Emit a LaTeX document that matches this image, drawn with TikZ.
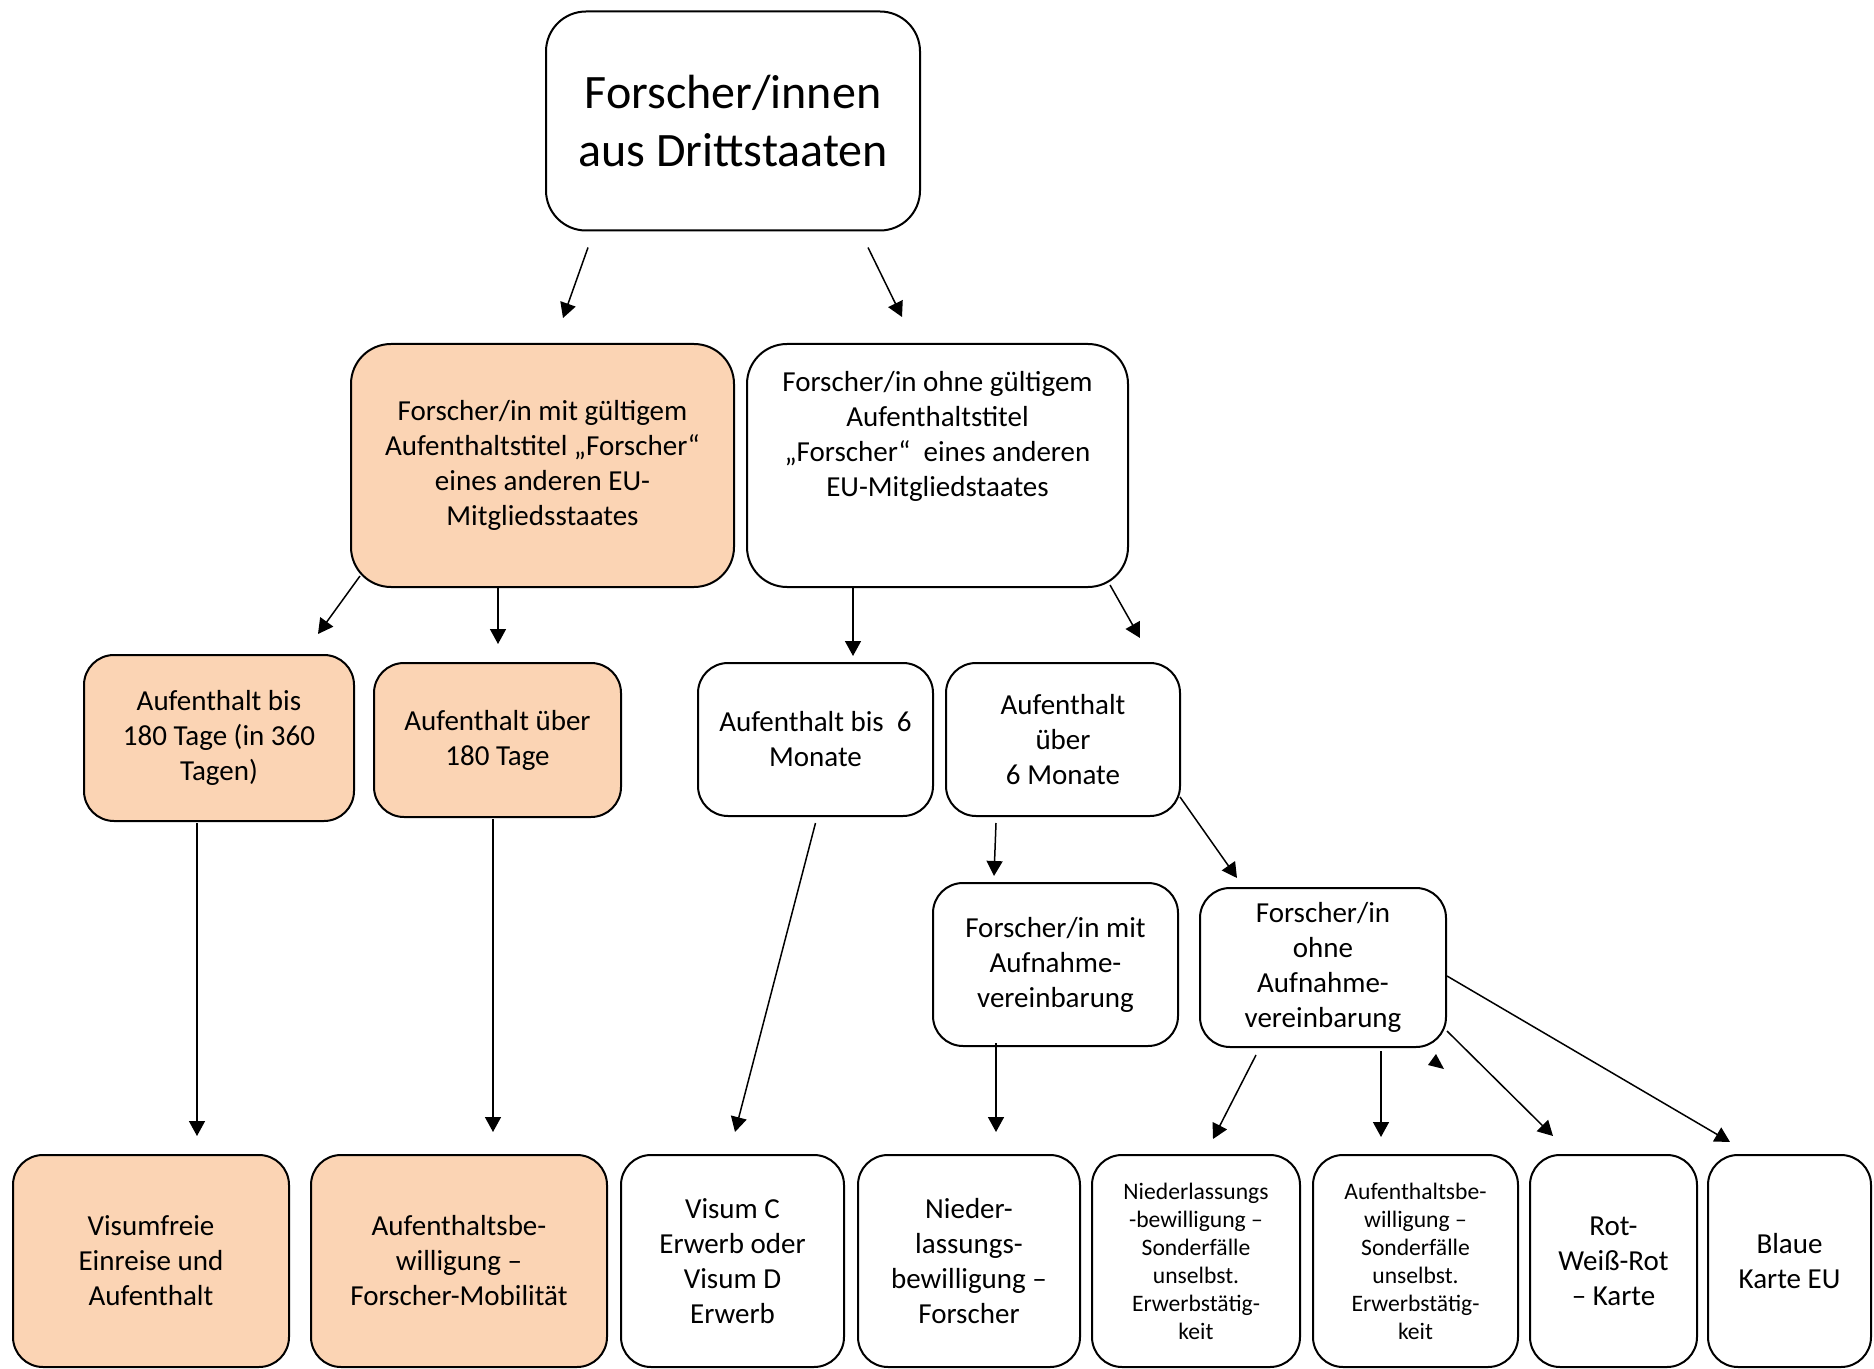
\documentclass[tikz,border=0pt]{standalone}
\usepackage{fontspec}
\setmainfont{Carlito}
\usetikzlibrary{arrows.meta}
\definecolor{peach}{RGB}{251,212,180}

\begin{document}
\begin{tikzpicture}[x=0.5pt,y=-0.5pt,>={Triangle[length=7.5pt,width=8pt]},
    box/.style={draw,line width=1pt,rounded corners=15pt,align=center,inner sep=2pt,
      font=\fontsize{14.5pt}{17.5pt}\selectfont},
    peachbox/.style={box,fill=peach},
    smalltext/.style={font=\fontsize{11.8pt}{14pt}\selectfont},
    arr/.style={->,line width=0.75pt}]
  \useasboundingbox (0,0) rectangle (1874,1369);

    % obere Ebenen
    \node(top) at (733,121) [box,rounded corners=20pt,minimum width=187pt,minimum height=109.5pt,
      font=\fontsize{24pt}{29pt}\selectfont] {Forscher/innen\\aus Drittstaaten};
    \node(mit) at (542.5,465.5) [peachbox,rounded corners=20pt,minimum width=191.5pt,minimum height=121.5pt]
      {Forscher/in mit gültigem\\Aufenthaltstitel „Forscher“\\eines anderen EU-\\Mitgliedsstaates};
    \node(ohne) at (937.5,465.5) [box,rounded corners=20pt,minimum width=190.5pt,minimum height=121.5pt] {};
    \node(ohnetext) at ([shift={(0,-29)}]ohne.center) [align=center,font=\fontsize{14.5pt}{17.5pt}\selectfont]
      {Forscher/in ohne gültigem\\Aufenthaltstitel\\„Forscher“\ \ eines anderen\\EU-Mitgliedstaates};

    \node(kurzmit) at (219,738) [peachbox,minimum width=135pt,minimum height=83pt] {Aufenthalt bis\\180 Tage (in 360\\Tagen)};
    \node(langmit) at (497.5,740) [peachbox,minimum width=123.5pt,minimum height=77pt] {Aufenthalt über\\180 Tage};
    \node(kurzohne) at (815.5,739.5) [box,minimum width=117.5pt,minimum height=76.5pt] {Aufenthalt bis\ \ 6\\Monate};
    \node(langohne) at (1063,739.5) [box,minimum width=117pt,minimum height=76.5pt] {Aufenthalt\\über\\6 Monate};

    \node(mitav) at (1055.5,964.5) [box,minimum width=122.5pt,minimum height=81.5pt] {Forscher/in mit\\Aufnahme-\\vereinbarung};
    \node(ohneav) at (1323,967.5) [box,minimum width=123pt,minimum height=79.5pt] {Forscher/in\\ohne\\Aufnahme-\\vereinbarung};

    % untere Reihe
    \node(visumfrei) at (151,1261) [peachbox,minimum width=138pt,minimum height=106pt] {Visumfreie\\Einreise und\\Aufenthalt};
    \node(mobil) at (459,1261) [peachbox,minimum width=148pt,minimum height=106pt] {Aufenthaltsbe-\\willigung –\\Forscher-Mobilität};
    \node(visum) at (732.5,1261) [box,minimum width=111.5pt,minimum height=106pt] {Visum C\\Erwerb oder\\Visum D\\Erwerb};
    \node(nlforscher) at (969,1261) [box,minimum width=111pt,minimum height=106pt] {Nieder-\\lassungs-\\bewilligung –\\Forscher};
    \node(nlsonder) at (1196,1261) [box,smalltext,minimum width=104pt,minimum height=106pt]
      {Niederlassungs\\-bewilligung –\\Sonderfälle\\unselbst.\\Erwerbstätig-\\keit};
    \node(absonder) at (1415.5,1261) [box,smalltext,minimum width=102.5pt,minimum height=106pt]
      {Aufenthaltsbe-\\willigung –\\Sonderfälle\\unselbst.\\Erwerbstätig-\\keit};
    \node(rwr) at (1613.5,1261) [box,minimum width=83.5pt,minimum height=106pt] {Rot-\\Weiß-Rot\\– Karte};
    \node(blau) at (1789.5,1261) [box,minimum width=81.5pt,minimum height=106pt] {Blaue\\Karte EU};

    % Pfeile
    \draw[arr] ([shift={(-145,16)}]top.south) -- ([shift={(20.5,-25)}]mit.north);
    \draw[arr] ([shift={(135,16)}]top.south) -- ([shift={(-35.5,-26)}]ohne.north);
    \draw[arr] ([shift={(10,-12)}]mit.south west) -- ([shift={(99,-20)}]kurzmit.north);
    \draw[arr] ([shift={(-44.5,0)}]mit.south) -- ([shift={(0.5,-18)}]langmit.north);
    \draw[arr] ([shift={(-84.5,0)}]ohne.south) -- ([shift={(37.5,-6)}]kurzohne.north);
    \draw[arr] ([shift={(-19,-3)}]ohne.south east) -- ([shift={(77,-24)}]langohne.north);

    \draw[arr] ([shift={(-22,1)}]kurzmit.south) -- ([shift={(46,-18)}]visumfrei.north);
    \draw[arr] ([shift={(-4.5,1)}]langmit.south) -- ([shift={(34,-22)}]mobil.north);
    \draw[arr] ([shift={(0,6)}]kurzohne.south) -- ([shift={(2.5,-22)}]visum.north);
    \draw[arr] ([shift={(-67,6)}]langohne.south) -- ([shift={(-61.5,-6)}]mitav.north);
    \draw[arr] ([shift={(-1,57.5)}]langohne.east) -- ([shift={(-86,-9)}]ohneav.north);

    \draw[arr] ([shift={(-59.5,-4)}]mitav.south) -- ([shift={(27,-22)}]nlforscher.north);
    \draw[arr] ([shift={(-67,7)}]ohneav.south) -- ([shift={(17,-15)}]nlsonder.north);
    \draw[arr] ([shift={(58,3)}]ohneav.south) -- ([shift={(-34.5,-17)}]absonder.north);
    \draw[arr] ([shift={(0,63.5)}]ohneav.east) -- ([shift={(-60.5,-18)}]rwr.north);
    \draw[arr] ([shift={(0,8.5)}]ohneav.east) -- ([shift={(-59.5,-12)}]blau.north);

    \fill ([shift={(-11,6)}]ohneav.south east) -- ++(-8,11) -- ++(16,4) -- cycle;
\end{tikzpicture}
\end{document}
